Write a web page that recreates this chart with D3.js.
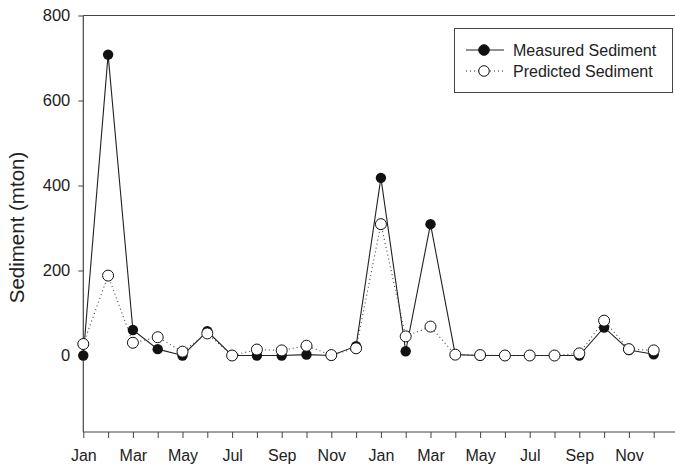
<!DOCTYPE html>
<html><head><meta charset="utf-8">
<script src="https://cdn.jsdelivr.net/npm/d3@7"></script>
<style>body{margin:0;background:#fff}svg{display:block}text{font-family:"Liberation Sans",Arial,sans-serif;fill:#222}</style>
</head><body><svg id="c" width="675" height="466"></svg>
<script>
const months = d3.range(24);
const monthLabels = ["Jan","","Mar","","May","","Jul","","Sep","","Nov","","Jan","","Mar","","May","","Jul","","Sep","","Nov",""];
const measured = [0,708,60,15,0,57,0,0,0,2,0,22,418,10,309,2,0,0,0,0,0,66,13,3];
const predicted = [27,188,30,43,9,52,0,14,12,23,1,17,309,45,68,2,1,0,0,0,5,82,15,12];
const yTicks = [0,200,400,600,800];
const seriesNames = ["Measured Sediment","Predicted Sediment"];

const svg = d3.select("#c");
const L=83.3, T=15.5, B=432, R=678.5;
const x = d3.scaleLinear().domain([0,24]).range([L,R]);
const y = d3.scaleLinear().domain([-180,800]).range([B,T]);

// frame top
svg.append("line").attr("x1",L).attr("x2",675).attr("y1",T).attr("y2",T).attr("stroke","#444").attr("stroke-width",1.2);

const xa = svg.append("g").attr("transform",`translate(0,${B})`)
  .call(d3.axisBottom(x).tickValues(months).tickSize(6).tickPadding(12).tickFormat(i=>monthLabels[i]));
xa.select(".domain").attr("stroke","#444").attr("stroke-width",1.2).attr("d",`M${L},0H675`);
xa.selectAll(".tick line").attr("stroke","#444");
xa.selectAll("text").attr("font-size",16).attr("fill","#222");

const ya = svg.append("g").attr("transform",`translate(${L},0)`)
  .call(d3.axisLeft(y).tickValues(yTicks).tickSize(5).tickPadding(8));
ya.select(".domain").attr("stroke","#444").attr("stroke-width",1.2).attr("d",`M0,${T}V${B}`);
ya.selectAll(".tick line").attr("stroke","#444");
ya.selectAll("text").attr("font-size",16.5).attr("fill","#222");

svg.append("text").attr("transform",`translate(24,227.5) rotate(-90)`)
  .attr("text-anchor","middle").attr("font-size",20.5).text("Sediment (mton)");

const line = d3.line().x((d,i)=>x(i)).y(d=>y(d));
svg.append("path").datum(measured).attr("d",line).attr("fill","none").attr("stroke","#222").attr("stroke-width",1.1);
svg.append("path").datum(predicted).attr("d",line).attr("fill","none").attr("stroke","#444").attr("stroke-width",1.1).attr("stroke-dasharray","1,3");

svg.append("g").selectAll("circle").data(measured).join("circle")
  .attr("cx",(d,i)=>x(i)).attr("cy",d=>y(d)).attr("r",5.2).attr("fill","#111");
svg.append("g").selectAll("circle").data(predicted).join("circle")
  .attr("cx",(d,i)=>x(i)).attr("cy",d=>y(d)).attr("r",5.5).attr("fill","#fff").attr("stroke","#111").attr("stroke-width",1);

// legend
const lg = svg.append("g");
lg.append("rect").attr("x",454.5).attr("y",28.5).attr("width",218).attr("height",64).attr("fill","#fff").attr("stroke","#444");
const rows=[{y:50,dash:null,fill:"#111"},{y:71,dash:"1,3",fill:"#fff"}];
rows.forEach((r,i)=>{
  lg.append("line").attr("x1",466).attr("x2",504).attr("y1",r.y).attr("y2",r.y).attr("stroke","#222").attr("stroke-width",1.1).attr("stroke-dasharray",r.dash);
  lg.append("circle").attr("cx",484).attr("cy",r.y).attr("r",5.3).attr("fill",r.fill).attr("stroke","#111").attr("stroke-width",1);
  lg.append("text").attr("x",513).attr("y",r.y+6).attr("font-size",16).text(seriesNames[i]);
});
</script></body></html>
